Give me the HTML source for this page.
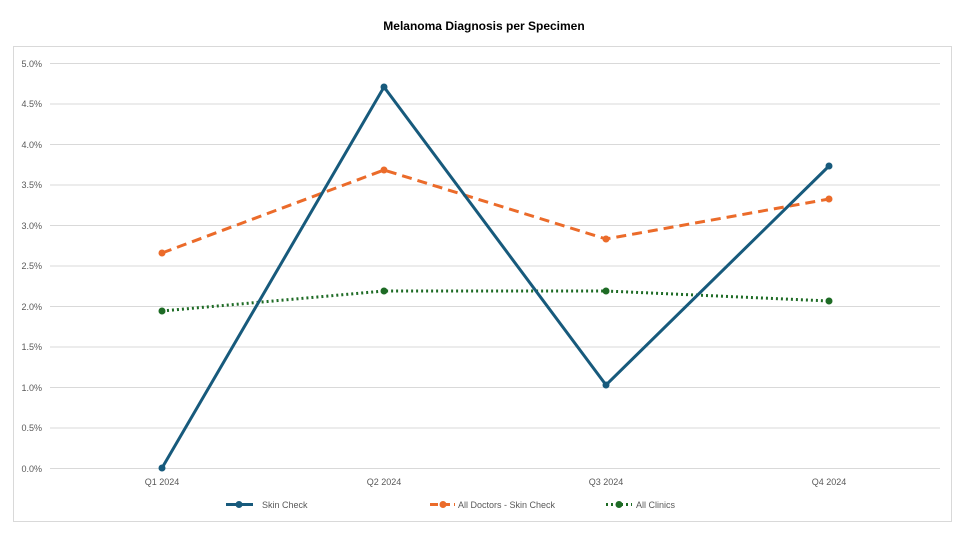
<!DOCTYPE html>
<html><head><style>body{margin:0;background:#fff}svg{display:block}</style></head><body>
<svg width="966" height="533" xmlns="http://www.w3.org/2000/svg" font-family="Liberation Sans, sans-serif">
<rect width="966" height="533" fill="#fff"/>
<rect x="13.5" y="46.5" width="938" height="475" fill="none" stroke="#d9d9d9"/>
<text x="484" y="30" text-anchor="middle" font-size="12" font-weight="bold" fill="#000">Melanoma Diagnosis per Specimen</text>
<g stroke="#d9d9d9" stroke-width="1">
<line x1="50" x2="940" y1="63.5" y2="63.5"/><line x1="50" x2="940" y1="104" y2="104"/>
<line x1="50" x2="940" y1="144.5" y2="144.5"/><line x1="50" x2="940" y1="185" y2="185"/>
<line x1="50" x2="940" y1="225.5" y2="225.5"/><line x1="50" x2="940" y1="266" y2="266"/>
<line x1="50" x2="940" y1="306.5" y2="306.5"/><line x1="50" x2="940" y1="347" y2="347"/>
<line x1="50" x2="940" y1="387.5" y2="387.5"/><line x1="50" x2="940" y1="428" y2="428"/>
<line x1="50" x2="940" y1="468.5" y2="468.5"/>
</g>
<g font-size="9" fill="#595959" text-anchor="end">
<text x="42" y="67">5.0%</text><text x="42" y="107">4.5%</text><text x="42" y="148">4.0%</text>
<text x="42" y="188">3.5%</text><text x="42" y="229">3.0%</text><text x="42" y="269">2.5%</text>
<text x="42" y="310">2.0%</text><text x="42" y="350">1.5%</text><text x="42" y="391">1.0%</text>
<text x="42" y="431">0.5%</text><text x="42" y="472">0.0%</text>
</g>
<g font-size="9" fill="#595959" text-anchor="middle">
<text x="162" y="485">Q1 2024</text><text x="384" y="485">Q2 2024</text>
<text x="606" y="485">Q3 2024</text><text x="829" y="485">Q4 2024</text>
</g>
<polyline points="162,311 384,291 606,291 829,301" fill="none" stroke="#1e6b25" stroke-width="3" stroke-dasharray="2,3"/>
<g fill="#1e6b25"><circle cx="162" cy="311" r="3.5"/><circle cx="384" cy="291" r="3.5"/><circle cx="606" cy="291" r="3.5"/><circle cx="829" cy="301" r="3.5"/></g>
<polyline points="162,253 384,170 606,239 829,199" fill="none" stroke="#eb6b2a" stroke-width="3" stroke-dasharray="10,6"/>
<g fill="#eb6b2a"><circle cx="162" cy="253" r="3.5"/><circle cx="384" cy="170" r="3.5"/><circle cx="606" cy="239" r="3.5"/><circle cx="829" cy="199" r="3.5"/></g>
<polyline points="162,468 384,87 606,385 829,166" fill="none" stroke="#175a7c" stroke-width="3"/>
<g fill="#175a7c"><circle cx="162" cy="468" r="3.5"/><circle cx="384" cy="87" r="3.5"/><circle cx="606" cy="385" r="3.5"/><circle cx="829" cy="166" r="3.5"/></g>
<g font-size="9" fill="#595959">
<line x1="226" x2="253" y1="504.5" y2="504.5" stroke="#175a7c" stroke-width="3"/><circle cx="239" cy="504.5" r="3.5" fill="#175a7c"/>
<text x="262" y="508">Skin Check</text>
<line x1="430" x2="455" y1="504.5" y2="504.5" stroke="#eb6b2a" stroke-width="3" stroke-dasharray="8,4"/><circle cx="443" cy="504.5" r="3.5" fill="#eb6b2a"/>
<text x="458" y="508">All Doctors -  Skin Check</text>
<line x1="606" x2="632" y1="504.5" y2="504.5" stroke="#1e6b25" stroke-width="3" stroke-dasharray="2,3"/><circle cx="619" cy="504.5" r="3.5" fill="#1e6b25"/>
<text x="636" y="508">All Clinics</text>
</g>
</svg>
</body></html>
